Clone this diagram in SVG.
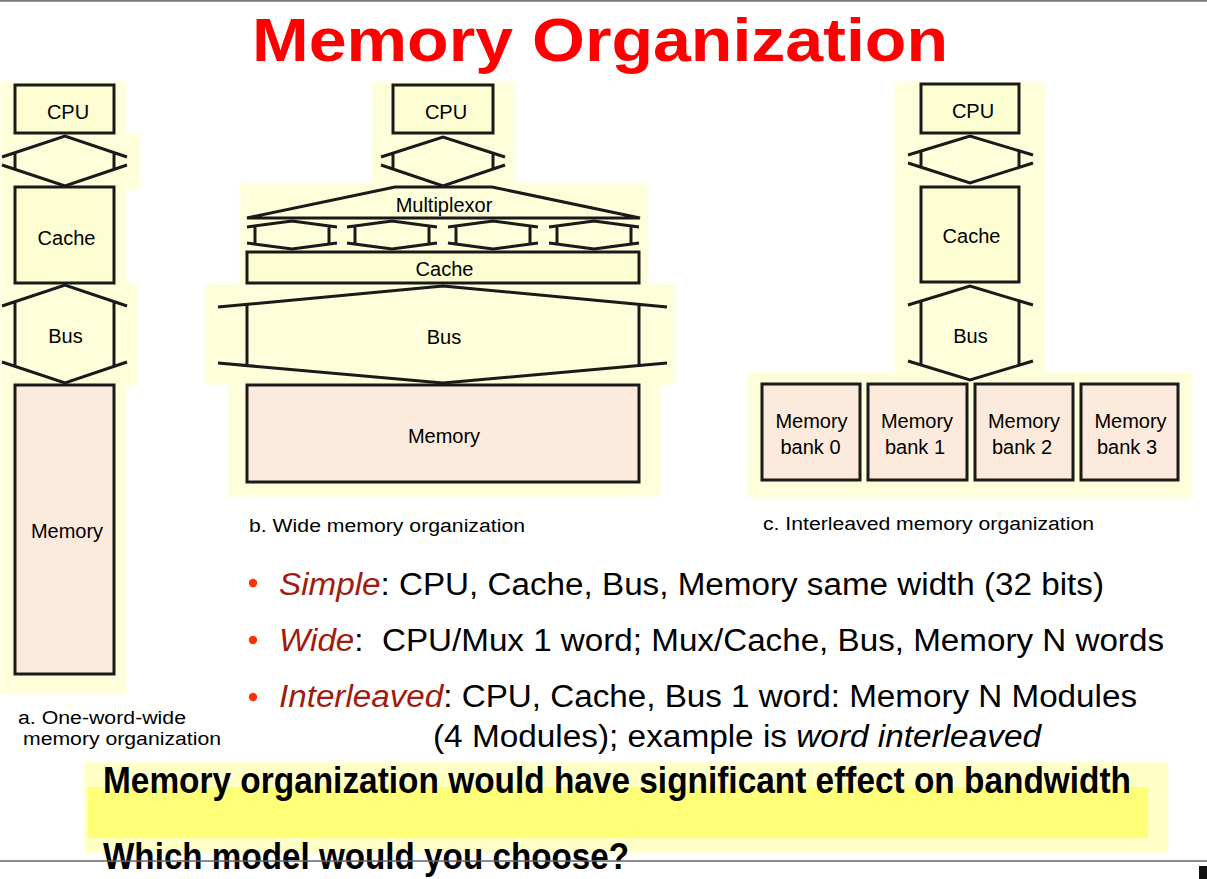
<svg xmlns="http://www.w3.org/2000/svg" width="1207" height="879" viewBox="0 0 1207 879">
<style>
.bg{fill:#FEFEDA;stroke:none}
.box{fill:#FDFDD2;stroke:#1a1a1a;stroke-width:3}
.mem{fill:#FCEBDC;stroke:#1a1a1a;stroke-width:3}
.ln{fill:none;stroke:#1a1a1a;stroke-width:3;stroke-linejoin:miter}
.lbl{font-family:"Liberation Sans",Arial,sans-serif;font-size:20px;fill:#000;text-anchor:middle}
.cap{font-family:"Liberation Sans",Arial,sans-serif;font-size:18px;fill:#000}
.bul{font-family:"Liberation Sans",Arial,sans-serif;font-size:31px;fill:#000}
.it{font-style:italic;fill:#A01C0C}
.it2{font-style:italic}
.big{font-family:"Liberation Sans",Arial,sans-serif;font-weight:bold;font-size:37px;fill:#000}
</style>
<defs><filter id="soft" x="-5%" y="-5%" width="110%" height="110%"><feGaussianBlur stdDeviation="1.5"/></filter></defs>
<rect width="1207" height="879" fill="#fff"/>
<line x1="0" y1="0.8" x2="1207" y2="0.8" stroke="#777" stroke-width="2"/>
<text x="252" y="61" font-family="Liberation Sans, Arial, sans-serif" font-weight="bold" font-size="61" fill="#FF0000" textLength="696" lengthAdjust="spacingAndGlyphs">Memory Organization</text>

<!-- backdrops -->
<g id="backdrops" filter="url(#soft)">
<rect class="bg" x="0" y="82" width="126" height="612"/>
<rect class="bg" x="0" y="134" width="140" height="56"/>
<rect class="bg" x="0" y="282" width="137" height="104"/>
<rect class="bg" x="372" y="82" width="143" height="108"/>
<rect class="bg" x="240" y="183" width="408" height="104"/>
<rect class="bg" x="205" y="284" width="470" height="101"/>
<rect class="bg" x="228" y="383" width="433" height="114"/>
<rect class="bg" x="895" y="82" width="150" height="304"/>
<rect class="bg" x="748" y="372" width="444" height="126"/>
</g>

<!-- connectors -->
<g id="connectors">
<path class="ln" d="M2,157 L65,136 L127,157 M2,165 L65,186 L127,165 M15,152.7 V169.3 M114,152.6 V169.4"/>
<path class="ln" d="M2,306 L65,285 L127,306 M2,362 L65,383 L127,362 M15,301.7 V366.3 M114,301.6 V366.4"/>
<path class="ln" d="M381,157 L443,137 L505,157 M381,165 L443,186 L505,165 M393,153.1 V169.1 M493,153.1 V169.1"/>
<path class="ln" d="M247,227 L292,221 L337,227 M247,243 L292,249 L337,243 M255,225.9 V244.1 M329,225.9 V244.1"/>
<path class="ln" d="M347,227 L392,221 L437,227 M347,243 L392,249 L437,243 M355,225.9 V244.1 M429,225.9 V244.1"/>
<path class="ln" d="M448,227 L493,221 L538,227 M448,243 L493,249 L538,243 M456,225.9 V244.1 M530,225.9 V244.1"/>
<path class="ln" d="M549,227 L594,221 L639,227 M549,243 L594,249 L639,243 M557,225.9 V244.1 M631,225.9 V244.1"/>
<path class="ln" d="M218,307 L443,286 L667,307 M218,363 L443,383 L667,363 M247,304.3 V365.6 M639,304.3 V365.6"/>
<path class="ln" d="M908,155 L970,136 L1033,155 M908,163 L970,183 L1033,163 M921,151 V167.2 M1019,150.8 V167.4"/>
<path class="ln" d="M908,305 L970,286 L1033,305 M908,361 L970,380 L1033,361 M921,301 V365 M1019,301 V365"/>
</g>

<!-- a. one-word-wide -->
<g id="a-cpu"><rect class="box" x="15" y="85" width="99" height="48"/><text class="lbl" x="68" y="119">CPU</text></g>
<g id="a-cache"><rect class="box" x="15" y="187" width="99" height="96"/><text class="lbl" x="66.5" y="245">Cache</text></g>
<g id="a-bus"><text class="lbl" x="65.5" y="343">Bus</text></g>
<g id="a-memory"><rect class="mem" x="15" y="385" width="99" height="289"/><text class="lbl" x="67" y="538">Memory</text></g>
<g id="a-caption"><text class="cap" x="18" y="724" textLength="168" lengthAdjust="spacingAndGlyphs">a. One-word-wide</text><text class="cap" x="23" y="745" textLength="198" lengthAdjust="spacingAndGlyphs">memory organization</text></g>

<!-- b. wide -->
<g id="b-cpu"><rect class="box" x="393" y="85" width="100" height="48"/><text class="lbl" x="446" y="119">CPU</text></g>
<g id="b-mux"><path class="ln" d="M395,187 L492,187 L640,218 L247,218 Z" fill="#FDFDD2"/><text class="lbl" x="444" y="212">Multiplexor</text></g>
<g id="b-cache"><rect class="box" x="247" y="252" width="392" height="31"/><text class="lbl" x="444.5" y="276">Cache</text></g>
<g id="b-bus"><text class="lbl" x="444" y="344">Bus</text></g>
<g id="b-memory"><rect class="mem" x="247" y="385" width="392" height="97"/><text class="lbl" x="444" y="443">Memory</text></g>
<g id="b-caption"><text class="cap" x="249" y="532" textLength="276" lengthAdjust="spacingAndGlyphs">b. Wide memory organization</text></g>

<!-- c. interleaved -->
<g id="c-cpu"><rect class="box" x="921" y="84" width="98" height="49"/><text class="lbl" x="973" y="118">CPU</text></g>
<g id="c-cache"><rect class="box" x="921" y="187" width="98" height="95"/><text class="lbl" x="971.5" y="243">Cache</text></g>
<g id="c-bus"><text class="lbl" x="970.5" y="343">Bus</text></g>
<g id="c-bank0"><rect class="mem" x="762" y="384" width="98" height="96"/><text class="lbl" x="811.5" y="428">Memory</text><text class="lbl" x="810.5" y="454">bank 0</text></g>
<g id="c-bank1"><rect class="mem" x="868" y="384" width="99" height="96"/><text class="lbl" x="917" y="428">Memory</text><text class="lbl" x="915" y="454">bank 1</text></g>
<g id="c-bank2"><rect class="mem" x="975" y="384" width="98" height="96"/><text class="lbl" x="1024" y="428">Memory</text><text class="lbl" x="1022" y="454">bank 2</text></g>
<g id="c-bank3"><rect class="mem" x="1081" y="384" width="97" height="96"/><text class="lbl" x="1130.5" y="428">Memory</text><text class="lbl" x="1127" y="454">bank 3</text></g>
<g id="c-caption"><text class="cap" x="763" y="530" textLength="331" lengthAdjust="spacingAndGlyphs">c. Interleaved memory organization</text></g>

<!-- bullets -->
<g id="bullets">
<circle cx="253" cy="583" r="4.2" fill="#FF3300"/>
<circle cx="253" cy="640" r="4.2" fill="#FF3300"/>
<circle cx="253" cy="697" r="4.2" fill="#FF3300"/>
<text class="bul" x="279" y="595" textLength="825" lengthAdjust="spacingAndGlyphs"><tspan class="it">Simple</tspan>: CPU, Cache, Bus, Memory same width (32 bits)</text>
<text class="bul" x="279" y="651" textLength="885" lengthAdjust="spacingAndGlyphs" xml:space="preserve"><tspan class="it">Wide</tspan>:  CPU/Mux 1 word; Mux/Cache, Bus, Memory N words</text>
<text class="bul" x="279" y="707" textLength="858" lengthAdjust="spacingAndGlyphs"><tspan class="it">Interleaved</tspan>: CPU, Cache, Bus 1 word: Memory N Modules</text>
<text class="bul" x="433" y="747" textLength="608" lengthAdjust="spacingAndGlyphs" xml:space="preserve">(4 Modules); example is <tspan class="it2">word interleaved</tspan></text>
</g>

<!-- highlight -->
<g id="highlight">
<rect x="84" y="762" width="1084" height="91" fill="#FFFFC6" filter="url(#soft)"/>
<rect x="88" y="787" width="1060" height="51" fill="#FFFF78"/>
<text class="big" x="103" y="793" textLength="1028" lengthAdjust="spacingAndGlyphs">Memory organization would have significant effect on bandwidth</text>
<text class="big" x="103" y="869" textLength="526" lengthAdjust="spacingAndGlyphs">Which model would you choose?</text>
</g>
<line x1="0" y1="861" x2="1207" y2="861" stroke="#666" stroke-width="1.5"/>
<rect x="1199" y="866" width="8" height="13" fill="#111"/>
</svg>
